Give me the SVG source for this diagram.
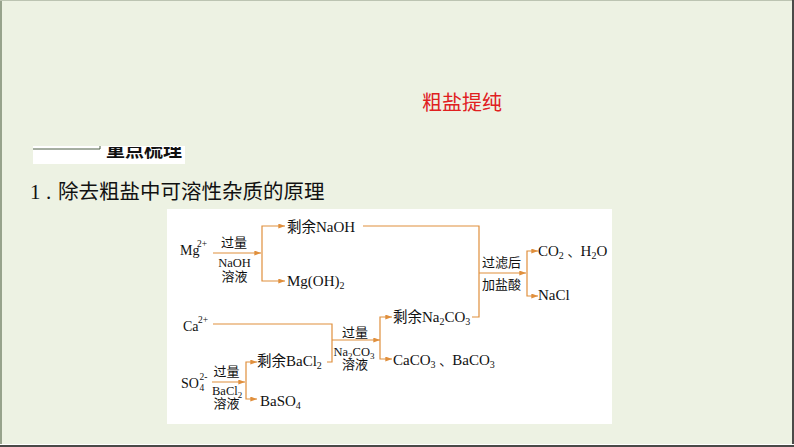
<svg xmlns="http://www.w3.org/2000/svg" width="794" height="447" viewBox="0 0 794 447">
<defs>
<style>
.lat{font-family:"Liberation Serif","Times New Roman",serif;font-size:15px;fill:#111}
.lat14{font-family:"Liberation Serif","Times New Roman",serif;font-size:14px;fill:#111}
.sm{font-family:"Liberation Serif","Times New Roman",serif;font-size:9.5px;fill:#111}
.sub{font-size:10px}
.sub9{font-size:9px}
.cn{font-family:"Noto Sans CJK SC","Noto Sans",sans-serif;font-size:14.5px}
.cn13{font-family:"Noto Sans CJK SC","Noto Sans",sans-serif;font-size:13px}
.lbl{font-family:"Noto Sans CJK SC","Noto Sans",sans-serif;font-size:13px;fill:#111}
.lbll{font-family:"Liberation Serif","Times New Roman",serif;font-size:12.5px;fill:#111}
.ln{fill:none;stroke:#e08f3c;stroke-width:1.2}
.arr{marker-end:url(#ah)}
</style>
<marker id="ah" viewBox="0 0 8 6" refX="8" refY="3" markerWidth="7" markerHeight="5" markerUnits="userSpaceOnUse" orient="auto">
<path d="M0,0 L8,3 L0,6 z" fill="#e08f3c"/>
</marker>
<clipPath id="hdrclip"><rect x="33" y="147" width="152" height="17"/></clipPath>
</defs>
<rect x="0" y="0" width="794" height="447" fill="#edf2e3"/>
<rect x="0" y="0" width="2" height="447" fill="#97a38c"/>
<rect x="0" y="0" width="794" height="1" fill="#bcc4b2"/>
<rect x="792" y="0" width="2" height="447" fill="#4a4a48"/>
<rect x="0" y="444" width="794" height="1" fill="#ffffff"/>
<rect x="0" y="445" width="794" height="2" fill="#4a4a48"/>

<g id="title">
<text x="422" y="110" font-family="Noto Sans CJK SC, sans-serif" font-size="20" fill="#e0201f">粗盐提纯</text>
</g>
<g id="header">
<rect x="33" y="146" width="152" height="18" fill="#ffffff"/>
<path d="M33 149 H100 V146" fill="none" stroke="#4d5f45" stroke-width="1"/>
<text x="106" y="157" clip-path="url(#hdrclip)" font-family="Noto Sans CJK SC, sans-serif" font-size="19" font-weight="bold" fill="#111">重点梳理</text>
</g>
<g id="heading">
<text x="30" y="199" font-family="Liberation Serif, serif" font-size="21" fill="#111">1</text>
<text x="46" y="199" font-family="Liberation Serif, serif" font-size="21" fill="#111">.</text>
<text x="58" y="199" font-family="Noto Sans CJK SC, sans-serif" font-size="20.5" fill="#111">除去粗盐中可溶性杂质的原理</text>
</g>

<rect id="panel" x="167" y="209" width="445" height="215" fill="#ffffff"/>

<g id="connectors">
<path class="ln arr" d="M213 253 H261"/>
<path class="ln arr" d="M262 253 V226 H285"/>
<path class="ln arr" d="M262 253 V281 H285"/>
<path class="ln" d="M363 226 H479 V317 H472"/>
<path class="ln arr" d="M479 273 H526"/>
<path class="ln arr" d="M527 273 V251 H538"/>
<path class="ln arr" d="M527 273 V296 H538"/>
<path class="ln" d="M213 324 H332 V362 H327"/>
<path class="ln arr" d="M332 340 H380"/>
<path class="ln arr" d="M380 340 V317 H392"/>
<path class="ln arr" d="M380 340 V359 H392"/>
<path class="ln arr" d="M212 382 H245"/>
<path class="ln arr" d="M246 382 V362 H257"/>
<path class="ln arr" d="M246 382 V399 H257"/>
</g>

<g id="mg">
<text class="lat14" x="180" y="255">Mg</text>
<text class="sm" x="197" y="247">2+</text>
</g>
<g id="naoh-reagent">
<text class="lbl" x="234" y="247" text-anchor="middle">过量</text>
<text class="lbll" x="234.5" y="267" text-anchor="middle">NaOH</text>
<text class="lbl" x="234.5" y="281" text-anchor="middle">溶液</text>
</g>
<g id="excess-naoh">
<text class="lat" x="287" y="232"><tspan class="cn">剩余</tspan>NaOH</text>
</g>
<g id="mgoh2">
<text class="lat" x="287" y="286">Mg(OH)<tspan class="sub" dy="3">2</tspan></text>
</g>
<g id="filter-acid">
<text class="lbl" x="482" y="267">过滤后</text>
<text class="lbl" x="482" y="289">加盐酸</text>
</g>
<g id="co2-h2o">
<text class="lat" x="538" y="256">CO<tspan class="sub" dy="3">2</tspan><tspan dy="-3"> </tspan><tspan class="cn13">、</tspan>H<tspan class="sub" dy="3">2</tspan><tspan dy="-3">O</tspan></text>
</g>
<g id="nacl">
<text class="lat" x="538" y="300">NaCl</text>
</g>
<g id="ca">
<text class="lat14" x="183" y="331">Ca</text>
<text class="sm" x="198" y="323">2+</text>
</g>
<g id="na2co3-reagent">
<text class="lbl" x="355" y="337" text-anchor="middle">过量</text>
<text class="lbll" x="333.5" y="356">Na<tspan class="sub9" dy="2.5">2</tspan><tspan dy="-2.5">CO</tspan><tspan class="sub9" dy="2.5">3</tspan></text>
<text class="lbl" x="355" y="369" text-anchor="middle">溶液</text>
</g>
<g id="excess-na2co3">
<text class="lat" x="393" y="322"><tspan class="cn">剩余</tspan>Na<tspan class="sub" dy="3">2</tspan><tspan dy="-3">CO</tspan><tspan class="sub" dy="3">3</tspan></text>
</g>
<g id="caco3-baco3">
<text class="lat" x="393" y="365">CaCO<tspan class="sub" dy="3">3</tspan><tspan dy="-3"> </tspan><tspan class="cn13">、</tspan>BaCO<tspan class="sub" dy="3">3</tspan></text>
</g>
<g id="so4">
<text class="lat14" x="181" y="388">SO</text>
<text class="sm" x="199.5" y="391">4</text>
<text class="sm" x="199.5" y="380">2-</text>
</g>
<g id="bacl2-reagent">
<text class="lbl" x="226.5" y="376" text-anchor="middle">过量</text>
<text class="lbll" x="212" y="395">BaCl<tspan class="sub9" dy="2.5">2</tspan></text>
<text class="lbl" x="226.5" y="408" text-anchor="middle">溶液</text>
</g>
<g id="excess-bacl2">
<text class="lat" x="257" y="366"><tspan class="cn">剩余</tspan>BaCl<tspan class="sub" dy="3">2</tspan></text>
</g>
<g id="baso4">
<text class="lat" x="260" y="406">BaSO<tspan class="sub" dy="3">4</tspan></text>
</g>
</svg>
